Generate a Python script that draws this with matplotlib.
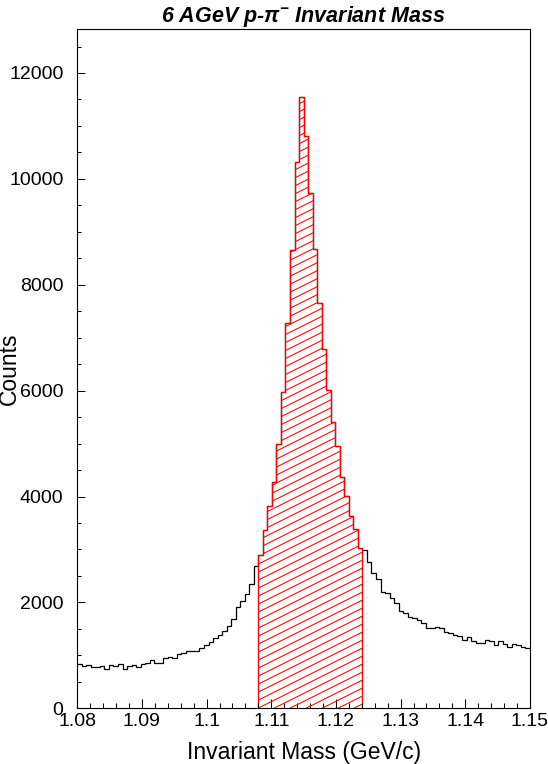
import numpy as np
import matplotlib
matplotlib.use("Agg")
import matplotlib.pyplot as plt
from matplotlib.ticker import MultipleLocator, FuncFormatter
from matplotlib.patches import Polygon
from matplotlib.collections import LineCollection

plt.rcParams['font.family'] = ['Liberation Sans', 'DejaVu Sans']
plt.rcParams['mathtext.fontset'] = 'custom'
plt.rcParams['mathtext.rm'] = 'Liberation Sans'
plt.rcParams['mathtext.it'] = 'Liberation Sans:italic'
plt.rcParams['mathtext.bf'] = 'Liberation Sans:bold'

# ---- data ----
x_min, x_max, n_bins = 1.08, 1.15, 100
counts = [
    836, 805, 824, 786, 786, 805, 748, 824, 805, 843,
    748, 805, 824, 786, 843, 862, 906, 862, 862, 956,
    975, 956, 1019, 1050, 1088, 1088, 1088, 1145, 1189, 1258,
    1321, 1390, 1465, 1560, 1679, 1918, 2019, 2164, 2340, 2692,
    2899, 3371, 3830, 4270, 5000, 5975, 7283, 8660, 10321, 11541,
    10805, 9730, 8673, 7654, 6786, 6013, 5403, 4950, 4365, 4019,
    3623, 3390, 3032, 2994, 2767, 2560, 2447, 2201, 2182, 2088,
    1994, 1830, 1805, 1730, 1711, 1673, 1610, 1522, 1522, 1541,
    1522, 1447, 1428, 1390, 1358, 1296, 1352, 1277, 1239, 1239,
    1296, 1277, 1201, 1277, 1220, 1164, 1220, 1201, 1164, 1145,
]
signal_first_bin = 40   # first bin of highlighted window (1.108)
signal_last_bin = 62    # last bin of highlighted window (~1.124)
y_max = 12830
title = r"6 AGeV p-$\mathregular{\pi^{-}}$ Invariant Mass"
xlabel = "Invariant Mass (GeV/c)"
ylabel = "Counts"

edges = np.linspace(x_min, x_max, n_bins + 1)
vals = np.array(counts, dtype=float)

fig = plt.figure(figsize=(5.48, 7.64), dpi=100)
ax_left, ax_bottom, ax_w, ax_h = 0.141, 0.0729, 0.826, 0.8891
ax = fig.add_axes([ax_left, ax_bottom, ax_w, ax_h])

# full histogram outline
ax.stairs(vals, edges, baseline=None, color='black', lw=0.9)

# highlighted signal window
s_vals = vals[signal_first_bin:signal_last_bin + 1]
s_edges = edges[signal_first_bin:signal_last_bin + 2]
verts = [(s_edges[0], 0)]
for i, v in enumerate(s_vals):
    verts.append((s_edges[i], v))
    verts.append((s_edges[i + 1], v))
verts.append((s_edges[-1], 0))
poly = Polygon(verts, closed=True, facecolor='none', edgecolor='none')
ax.add_patch(poly)

# custom hatch lines (shallow diagonal) clipped to window
W_px = ax_w * 548
H_px = ax_h * 764
slope = 0.5
spacing = 8.0
segs = []
c = -slope * W_px
while c < H_px:
    segs.append([(0, c / H_px), (1, (c + slope * W_px) / H_px)])
    c += spacing
lc = LineCollection(segs, colors='red', linewidths=0.75, transform=ax.transAxes)
ax.add_collection(lc)
lc.set_clip_path(poly)

ax.stairs(s_vals, s_edges, baseline=0, color='red', lw=0.95)

ax.set_xlim(x_min, x_max)
ax.set_ylim(0, y_max)

ax.xaxis.set_major_locator(MultipleLocator(0.01))
ax.xaxis.set_minor_locator(MultipleLocator(0.002))
ax.yaxis.set_major_locator(MultipleLocator(2000))
ax.yaxis.set_minor_locator(MultipleLocator(500))
ax.xaxis.set_major_formatter(FuncFormatter(lambda v, p: f"{round(v, 4):g}"))
ax.yaxis.set_major_formatter(FuncFormatter(lambda v, p: f"{int(round(v))}"))

ax.tick_params(axis='both', which='both', direction='in', top=False, right=False,
               width=0.75, color='black')
ax.tick_params(axis='x', which='major', length=6.5, pad=3.5, labelsize=14)
ax.tick_params(axis='x', which='minor', length=3.4)
ax.tick_params(axis='y', which='major', length=5.5, pad=10, labelsize=14)
ax.tick_params(axis='y', which='minor', length=3.1)
for s in ax.spines.values():
    s.set_linewidth(0.8)

ax.set_title(title, fontsize=15.5, fontweight='bold', fontstyle='italic', pad=3)
ax.set_xlabel(xlabel, fontsize=16.5)
ax.set_ylabel(ylabel, fontsize=16.5)
ax.xaxis.set_label_coords(0.5, -0.048)
ax.yaxis.set_label_coords(-0.125, 0.5)

fig.savefig("out.png", dpi=100)
